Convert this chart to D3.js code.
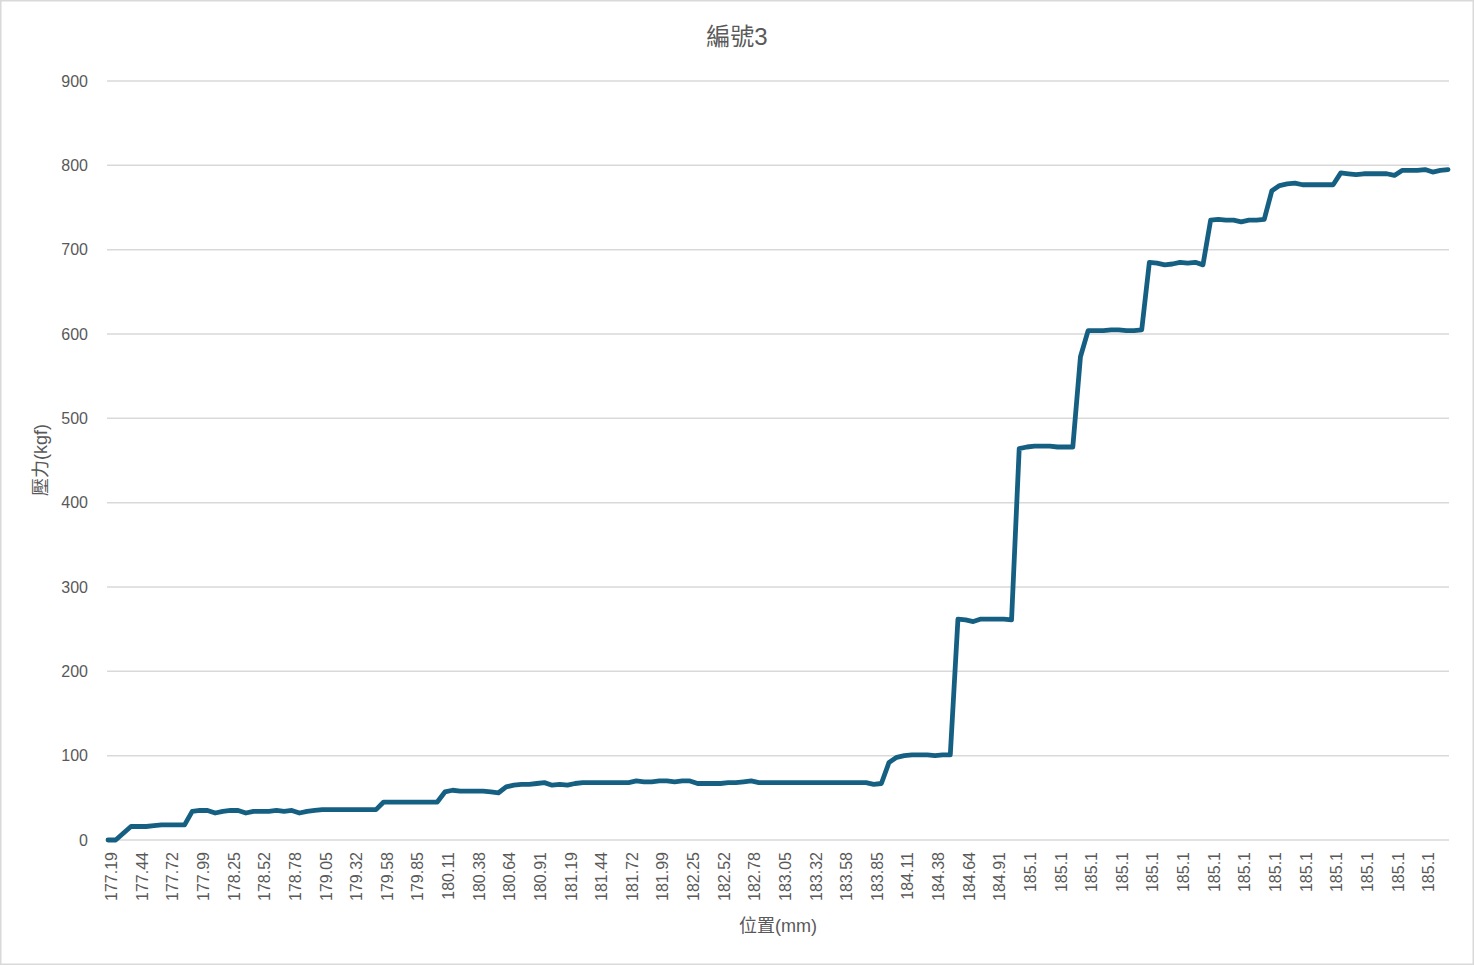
<!DOCTYPE html>
<html>
<head>
<meta charset="utf-8">
<script src="https://cdn.jsdelivr.net/npm/d3@7"></script>
<style>
  html, body { margin: 0; padding: 0; background: #fff; }
  svg { display: block; }
</style>
</head>
<body>
<svg id="chart" width="1474" height="965"></svg>
<script>
const chartTitle = "編號3";
const xTitle = "位置(mm)";
const yTitle = "壓力(kgf)";

// position (mm) categories, one per sample
const positions = [
  177.19, 177.25, 177.32, 177.38,
  177.44, 177.51, 177.58, 177.65,
  177.72, 177.79, 177.85, 177.92,
  177.99, 178.05, 178.12, 178.18,
  178.25, 178.32, 178.38, 178.45,
  178.52, 178.58, 178.65, 178.71,
  178.78, 178.85, 178.91, 178.98,
  179.05, 179.12, 179.18, 179.25,
  179.32, 179.38, 179.45, 179.51,
  179.58, 179.65, 179.71, 179.78,
  179.85, 179.91, 179.98, 180.04,
  180.11, 180.18, 180.24, 180.31,
  180.38, 180.44, 180.51, 180.57,
  180.64, 180.71, 180.77, 180.84,
  180.91, 180.98, 181.05, 181.12,
  181.19, 181.25, 181.31, 181.38,
  181.44, 181.51, 181.58, 181.65,
  181.72, 181.79, 181.85, 181.92,
  181.99, 182.05, 182.12, 182.18,
  182.25, 182.32, 182.38, 182.45,
  182.52, 182.58, 182.65, 182.71,
  182.78, 182.85, 182.91, 182.98,
  183.05, 183.12, 183.18, 183.25,
  183.32, 183.38, 183.45, 183.51,
  183.58, 183.65, 183.71, 183.78,
  183.85, 183.91, 183.98, 184.04,
  184.11, 184.18, 184.24, 184.31,
  184.38, 184.44, 184.51, 184.57,
  184.64, 184.71, 184.77, 184.84,
  184.91, 184.98, 185.04, 185.1,
  185.1, 185.1, 185.1, 185.1, 185.1, 185.1, 185.1, 185.1,
  185.1, 185.1, 185.1, 185.1, 185.1, 185.1, 185.1, 185.1,
  185.1, 185.1, 185.1, 185.1, 185.1, 185.1, 185.1, 185.1,
  185.1, 185.1, 185.1, 185.1, 185.1, 185.1, 185.1, 185.1,
  185.1, 185.1, 185.1, 185.1, 185.1, 185.1, 185.1, 185.1,
  185.1, 185.1, 185.1, 185.1, 185.1, 185.1, 185.1, 185.1,
  185.1, 185.1, 185.1, 185.1, 185.1, 185.1, 185.1, 185.1
];

// pressure (kgf) per sample
const pressure = [
  0, 0, 8, 16, 16, 16, 17, 18, 18, 18,
  18, 34, 35, 35, 32, 34, 35, 35, 32, 34,
  34, 34, 35, 34, 35, 32, 34, 35, 36, 36,
  36, 36, 36, 36, 36, 36, 45, 45, 45, 45,
  45, 45, 45, 45, 57, 59, 58, 58, 58, 58,
  57, 56, 63, 65, 66, 66, 67, 68, 65, 66,
  65, 67, 68, 68, 68, 68, 68, 68, 68, 70,
  69, 69, 70, 70, 69, 70, 70, 67, 67, 67,
  67, 68, 68, 69, 70, 68, 68, 68, 68, 68,
  68, 68, 68, 68, 68, 68, 68, 68, 68, 68,
  66, 67, 92, 98, 100, 101, 101, 101, 100, 101,
  101, 262, 261, 259, 262, 262, 262, 262, 261, 464,
  466, 467, 467, 467, 466, 466, 466, 573, 604, 604,
  604, 605, 605, 604, 604, 605, 685, 684, 682, 683,
  685, 684, 685, 682, 735, 736, 735, 735, 733, 735,
  735, 736, 770, 776, 778, 779, 777, 777, 777, 777,
  777, 791, 790, 789, 790, 790, 790, 790, 788, 794,
  794, 794, 795, 792, 794, 795
];

const yTicks = [0, 100, 200, 300, 400, 500, 600, 700, 800, 900];
const labelEvery = 4;

const W = 1474, H = 965;
const plot = { left: 108, right: 1448, top: 81, bottom: 840 };
const gridLeft = 107, gridRight = 1449;
const textColor = "#595959";
const gridColor = "#d9d9d9";
const lineColor = "#156082";
const latin = "'Liberation Sans', Arial, sans-serif";
const cjk = "'Liberation Sans', 'Noto Sans CJK TC', sans-serif";

const svg = d3.select("#chart");

svg.append("rect")
  .attr("x", 0.75).attr("y", 0.75)
  .attr("width", W - 1.5).attr("height", H - 1.5)
  .attr("fill", "#fff").attr("stroke", gridColor).attr("stroke-width", 1.5);

const idx = positions.map((d, i) => i);
const x = d3.scalePoint().domain(idx).range([plot.left, plot.right]);
const y = d3.scaleLinear().domain([0, 900]).range([plot.bottom, plot.top]);

// gridlines
svg.append("g")
  .selectAll("line")
  .data(yTicks)
  .join("line")
  .attr("x1", gridLeft).attr("x2", gridRight)
  .attr("y1", d => y(d)).attr("y2", d => y(d))
  .attr("stroke", gridColor).attr("stroke-width", 1.5);

// y axis labels
const yAxis = d3.axisLeft(y).tickValues(yTicks).tickSize(0).tickPadding(0);
const gy = svg.append("g").attr("transform", `translate(88,0)`).call(yAxis);
gy.select(".domain").remove();
gy.selectAll("text")
  .attr("fill", textColor)
  .style("font-family", latin)
  .style("font-size", "16px");

// x axis labels
const xAxis = d3.axisBottom(x)
  .tickValues(idx.filter(i => i % labelEvery === 0))
  .tickFormat(i => String(positions[i]))
  .tickSize(0);
const gx = svg.append("g").attr("transform", `translate(0,${plot.bottom})`).call(xAxis);
gx.select(".domain").remove();
gx.selectAll("text")
  .attr("fill", textColor)
  .style("font-family", latin)
  .style("font-size", "16px")
  .attr("text-anchor", "end")
  .attr("transform", "rotate(-90)")
  .attr("x", -12)
  .attr("y", 3)
  .attr("dy", "0.35em");

// line
const line = d3.line()
  .x((d, i) => x(i))
  .y(d => y(d));

svg.append("path")
  .datum(pressure)
  .attr("d", line)
  .attr("fill", "none")
  .attr("stroke", lineColor)
  .attr("stroke-width", 4.8)
  .attr("stroke-linejoin", "round")
  .attr("stroke-linecap", "round");

// titles
svg.append("text")
  .attr("x", 737).attr("y", 45)
  .attr("text-anchor", "middle")
  .attr("fill", textColor)
  .style("font-family", cjk)
  .style("font-size", "24px")
  .text(chartTitle);

svg.append("text")
  .attr("x", 778).attr("y", 932)
  .attr("text-anchor", "middle")
  .attr("fill", textColor)
  .style("font-family", cjk)
  .style("font-size", "18px")
  .text(xTitle);

svg.append("text")
  .attr("transform", "translate(47,460) rotate(-90)")
  .attr("text-anchor", "middle")
  .attr("fill", textColor)
  .style("font-family", cjk)
  .style("font-size", "18px")
  .text(yTitle);
</script>
</body>
</html>
